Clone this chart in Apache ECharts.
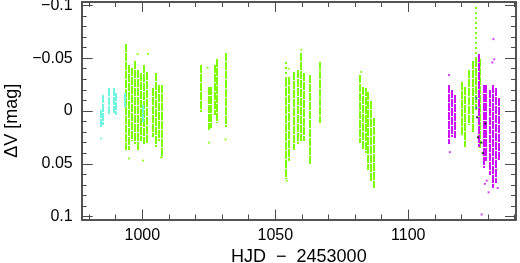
<!DOCTYPE html>
<html>
<head>
<meta charset="utf-8">
<script src="https://cdn.jsdelivr.net/npm/echarts@6/dist/echarts.min.js"></script>
<style>
  html, body { margin: 0; padding: 0; background: #fff; }
  #chart { width: 520px; height: 263px; }
</style>
</head>
<body>
<div id="chart"></div>
<script>
// nightly light-curve strips: [HJD-2453000, top of spread, bottom of spread]
const cyanStrips = [
  [984.4, -0.001, 0.016], [985.3, -0.015, 0.013], [987.5, -0.022, 0.004],
  [989.3, -0.022, 0.002], [990.0, -0.017, 0.004], [993.3, -0.017, -0.004],
  [1000.3, -0.006, 0.010]
]
const greenStrips = [
  [994.0, -0.063, 0.037], [995.0, -0.044, 0.037], [996.1, -0.041, 0.028],
  [997.2, -0.047, 0.031], [998.4, -0.039, 0.037], [999.5, -0.036, 0.028],
  [1000.6, -0.044, 0.031], [1001.6, -0.037, 0.030], [1004.0, -0.022, 0.025],
  [1005.1, -0.036, 0.034], [1006.3, -0.025, 0.028], [1007.4, -0.025, 0.045],
  [1022.0, -0.044, 0.001], [1025.1, -0.023, 0.018], [1026.0, -0.023, 0.016],
  [1027.3, -0.044, 0.004], [1028.1, -0.049, 0.011], [1031.3, -0.055, 0.015],
  [1054.2, -0.030, 0.064], [1055.3, -0.032, 0.047], [1057.2, -0.037, 0.037],
  [1058.5, -0.039, 0.031], [1059.5, -0.055, 0.028], [1060.8, -0.036, 0.028],
  [1063.2, -0.034, 0.050], [1066.8, -0.046, 0.011],
  [1082.0, -0.034, 0.030], [1083.1, -0.023, 0.037], [1084.1, -0.022, 0.040],
  [1085.0, -0.018, 0.056], [1086.1, -0.009, 0.066], [1087.1, 0.007, 0.073],
  [1120.2, -0.027, 0.023], [1121.5, -0.023, 0.034], [1123.0, -0.039, 0.013],
  [1124.3, -0.047, 0.021], [1125.4, -0.049, -0.001], [1127.1, -0.049, 0.035]
]
const greenSparse = [
  [1125.4, -0.098, -0.049], [1054.2, -0.046, -0.030]
]
const magentaStrips = [
  [1115.3, -0.025, 0.031], [1116.6, -0.020, 0.025], [1117.5, -0.015, 0.026],
  [1126.6, -0.054, 0.034], [1128.4, -0.025, 0.054], [1129.4, -0.025, 0.047],
  [1130.7, -0.020, 0.061], [1132.0, -0.025, 0.073], [1133.1, -0.022, 0.068],
  [1134.1, -0.012, 0.047]
]
// single stray points
const cyanPoints = [[984.4, 0.026]]
const greenPoints = [
  [995.0, 0.045], [998.2, -0.054], [1000.3, 0.047], [1002.1, -0.054], [1007.0, 0.044],
  [1024.5, -0.041], [1025.1, 0.030], [1031.3, 0.027],
  [1054.4, 0.066], [1055.0, -0.040], [1059.8, -0.058], [1082.3, -0.037]
]
const magentaPoints = [
  [1115.3, -0.034], [1115.6, 0.039], [1132.0, -0.068], [1132.3, -0.049],
  [1131.6, -0.046], [1130.2, 0.077], [1129.5, 0.066], [1133.6, 0.073],
  [1128.8, 0.069], [1127.6, 0.098]
]
const blackPoints = [
  [1125.9, 0.006], [1127.5, 0.030], [1128.0, 0.040], [1126.2, 0.025], [1129.0, 0.012]
]
const bluePoints = [[1125.6, -0.012], [1125.6, -0.003]]

const xMinorTicks = [980, 990, 1000, 1010, 1020, 1030, 1040, 1050, 1060, 1070, 1080, 1090, 1100, 1110, 1120, 1130, 1140]
const xMajorTicks = [1000, 1050, 1100]
const yMinorTicks = [-0.1, -0.09, -0.08, -0.07, -0.06, -0.05, -0.04, -0.03, -0.02, -0.01, 0,
  0.01, 0.02, 0.03, 0.04, 0.05, 0.06, 0.07, 0.08, 0.09, 0.1]
const yMajorTicks = [-0.1, -0.05, 0, 0.05, 0.1]

const FONT = 'Liberation Sans'
const FRAME = '#4a4a4a'

function stripSeries(data, color, dashed) {
  return {
    type: 'custom',
    data: data,
    silent: true,
    renderItem(params, api) {
      const p1 = api.coord([api.value(0), api.value(1)])
      const p2 = api.coord([api.value(0), api.value(2)])
      const x = Math.round(p1[0]) // keep strips pixel-crisp
      return {
        type: 'line',
        shape: { x1: x, y1: Math.round(p1[1]), x2: x, y2: Math.round(p2[1]) },
        style: { stroke: color, lineWidth: 2, lineDash: dashed ? [2, 3] : [8, 1] }
      }
    }
  }
}
function pointSeries(data, color) {
  return { type: 'scatter', data: data, symbol: 'rect', symbolSize: 2, itemStyle: { color: color }, silent: true }
}

function xAxisDef(pos, ticks, len, labels) {
  return {
    type: 'value', position: pos, min: 977.2, max: 1140.5,
    axisLine: { show: true, onZero: false, lineStyle: { color: FRAME, width: 1.5 } },
    axisTick: { show: true, inside: true, length: len, customValues: ticks, lineStyle: { color: FRAME, width: 1 } },
    axisLabel: labels
      ? { show: true, customValues: xMajorTicks, margin: 8, color: '#000', fontFamily: FONT, fontSize: 16, formatter: v => String(v) }
      : { show: false },
    splitLine: { show: false }
  }
}
function yAxisDef(pos, ticks, len, labels) {
  return {
    type: 'value', position: pos, inverse: true, min: -0.1032, max: 0.1028,
    axisLine: { show: true, onZero: false, lineStyle: { color: FRAME, width: 1.5 } },
    axisTick: { show: true, inside: true, length: len, customValues: ticks, lineStyle: { color: FRAME, width: 1 } },
    axisLabel: labels
      ? {
          show: true, customValues: yMajorTicks, margin: 9, color: '#000', fontFamily: FONT, fontSize: 16,
          formatter: v => {
            const r = Math.round(v * 100) / 100
            return r === 0 ? '0' : (r < 0 ? '\u2212' : '') + Math.abs(r)
          }
        }
      : { show: false },
    splitLine: { show: false }
  }
}

const chart = echarts.init(document.getElementById('chart'))
const xAxes = [
  xAxisDef('bottom', xMinorTicks, 5, true),
  xAxisDef('bottom', xMajorTicks, 10, false),
  xAxisDef('top', xMinorTicks, 5, false),
  xAxisDef('top', xMajorTicks, 10, false)
]
xAxes[0].name = 'HJD  \u2212  2453000'
xAxes[0].nameLocation = 'middle'
xAxes[0].nameGap = 28
xAxes[0].nameTextStyle = { color: '#000', fontFamily: FONT, fontSize: 18 }
const yAxes = [
  yAxisDef('left', yMinorTicks, 5, true),
  yAxisDef('left', yMajorTicks, 11, false),
  yAxisDef('right', yMinorTicks, 5, false),
  yAxisDef('right', yMajorTicks, 11, false)
]
yAxes[0].name = '\u0394V [mag]'
yAxes[0].nameLocation = 'middle'
yAxes[0].nameGap = 60
yAxes[0].nameTextStyle = { color: '#000', fontFamily: FONT, fontSize: 18, padding: [0, 20, 0, 0] }

chart.setOption({
  animation: false,
  grid: { left: 81.7, right: 4, top: 2, bottom: 43.5, containLabel: false, outerBoundsMode: 'none' },
  xAxis: xAxes,
  yAxis: yAxes,
  series: [
    stripSeries(greenStrips, '#7cff00', false),
    stripSeries(greenSparse, '#7cff00', true),
    stripSeries(cyanStrips, '#6ff6e0', false),
    stripSeries(magentaStrips, '#cc11ff', false),
    pointSeries(greenPoints, '#7cff00'),
    pointSeries(cyanPoints, '#6ff6e0'),
    pointSeries(magentaPoints, '#cc11ff'),
    pointSeries(blackPoints, '#000'),
    pointSeries(bluePoints, '#3344ff')
  ]
})
</script>
</body>
</html>
